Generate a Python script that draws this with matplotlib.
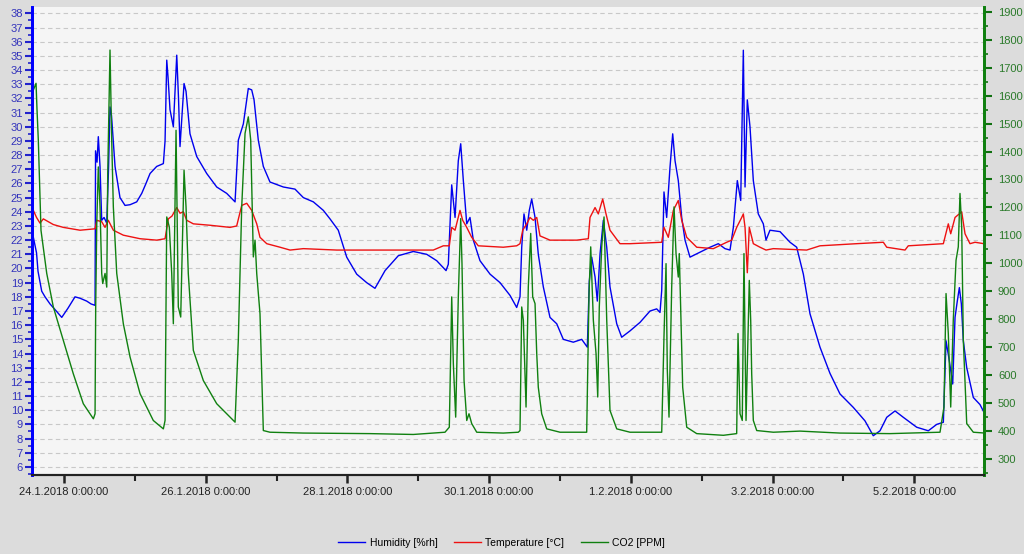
import numpy as np
import pandas as pd
import matplotlib
matplotlib.use("Agg")
import matplotlib.pyplot as plt
from matplotlib.ticker import MultipleLocator, FuncFormatter
import matplotlib.dates as mdates

plt.rcParams['font.family'] = ['Liberation Sans', 'DejaVu Sans']

start = pd.Timestamp("2018-01-24 00:00:00")

# time offsets in days from 24.1.2018 0:00
hum_t = [-0.452, -0.433, -0.409, -0.388, -0.367, -0.315, -0.268, -0.198, -0.127, -0.032,
         0.056, 0.155, 0.226, 0.320, 0.381, 0.438, 0.445, 0.466, 0.484, 0.508,
         0.532, 0.565, 0.603, 0.628, 0.649, 0.670, 0.720, 0.790, 0.861, 0.932,
         1.026, 1.097, 1.157, 1.214, 1.308, 1.402, 1.426, 1.450, 1.468, 1.496,
         1.543, 1.591, 1.616, 1.637, 1.694, 1.722, 1.778, 1.873, 2.014, 2.155,
         2.296, 2.414, 2.460, 2.531, 2.601, 2.649, 2.682, 2.742, 2.813, 2.907,
         3.095, 3.260, 3.378, 3.519, 3.660, 3.754, 3.871, 3.990, 4.131, 4.272,
         4.389, 4.531, 4.718, 4.930, 5.119, 5.260, 5.392, 5.424, 5.472, 5.519,
         5.565, 5.599, 5.636, 5.684, 5.730, 5.777, 5.871, 6.013, 6.154, 6.295,
         6.389, 6.436, 6.460, 6.492, 6.531, 6.567, 6.601, 6.648, 6.694, 6.765,
         6.859, 6.954, 7.047, 7.188, 7.307, 7.386, 7.414, 7.448, 7.495, 7.527,
         7.565, 7.612, 7.660, 7.706, 7.801, 7.871, 7.989, 8.130, 8.271, 8.365,
         8.412, 8.436, 8.468, 8.506, 8.553, 8.591, 8.624, 8.670, 8.718, 8.765,
         8.835, 8.976, 9.118, 9.235, 9.329, 9.400, 9.447, 9.503, 9.551, 9.588,
         9.612, 9.644, 9.682, 9.729, 9.799, 9.870, 9.908, 9.964, 10.106, 10.247,
         10.341, 10.435, 10.529, 10.670, 10.811, 10.952, 11.140, 11.305, 11.422, 11.517,
         11.612, 11.729, 11.846, 12.035, 12.199, 12.317, 12.411, 12.449, 12.495, 12.543,
         12.576, 12.608, 12.637, 12.665, 12.693, 12.741, 12.834, 12.928, 12.985]
humidity = [22.0, 22.2, 21.6, 21.1, 19.8, 18.4, 18.0, 17.5, 17.1, 16.55,
            17.2, 18.0, 17.9, 17.7, 17.5, 17.4, 28.3, 27.5, 29.3, 27.2,
            23.4, 23.6, 23.2, 27.0, 31.4, 30.8, 27.2, 25.0, 24.45, 24.5,
            24.7, 25.3, 26.0, 26.7, 27.2, 27.4, 29.0, 34.7, 33.5, 31.2,
            30.0, 35.05, 32.0, 28.6, 33.05, 32.5, 29.5, 27.9, 26.7, 25.75,
            25.3, 24.7, 29.05, 30.2, 32.7, 32.6, 31.9, 29.05, 27.2, 26.1,
            25.75, 25.6, 25.0, 24.7, 24.1, 23.5, 22.7, 20.8, 19.6, 19.0,
            18.6, 19.85, 20.9, 21.2, 21.0, 20.55, 19.85, 20.3, 25.9, 23.6,
            27.6, 28.8, 26.2, 23.15, 23.6, 22.0, 20.55, 19.6, 19.0, 18.1,
            17.25, 18.0, 21.5, 23.85, 22.7, 24.1, 24.9, 23.6, 21.0, 18.7,
            16.55, 16.1, 15.0, 14.8, 15.0, 14.45, 19.1, 20.8, 19.4, 17.7,
            21.0, 23.4, 21.5, 18.7, 16.1, 15.15, 15.6, 16.2, 17.0, 17.15,
            16.9, 18.45, 25.4, 23.6, 27.15, 29.5, 27.6, 26.2, 23.6, 22.0,
            20.8, 21.15, 21.5, 21.75, 21.4, 21.3, 22.9, 26.2, 24.8, 35.4,
            25.75, 31.9, 30.0, 26.2, 23.85, 23.15, 22.0, 22.7, 22.6, 21.85,
            21.5, 19.6, 16.8, 14.45, 12.6, 11.15, 10.2, 9.25, 8.2, 8.55,
            9.5, 9.95, 9.5, 8.8, 8.55, 9.0, 9.15, 14.9, 13.5, 11.85,
            16.55, 17.7, 18.65, 17.5, 14.9, 13.0, 10.9, 10.4, 9.85]

temp_t = [-0.452, -0.433, -0.388, -0.339, -0.292, -0.151, -0.010, 0.226, 0.438, 0.462,
          0.532, 0.579, 0.625, 0.696, 0.837, 1.073, 1.308, 1.426, 1.472, 1.524,
          1.591, 1.637, 1.684, 1.732, 1.825, 2.061, 2.343, 2.437, 2.508, 2.579,
          2.649, 2.720, 2.766, 2.861, 3.049, 3.190, 3.378, 3.849, 4.319, 4.789,
          5.212, 5.353, 5.438, 5.472, 5.519, 5.589, 5.627, 5.684, 5.754, 5.847,
          6.200, 6.389, 6.436, 6.474, 6.531, 6.577, 6.624, 6.672, 6.718, 6.859,
          7.236, 7.400, 7.424, 7.495, 7.541, 7.603, 7.650, 7.706, 7.847, 7.989,
          8.436, 8.468, 8.529, 8.600, 8.670, 8.718, 8.789, 8.930, 9.164, 9.353,
          9.424, 9.494, 9.565, 9.588, 9.612, 9.644, 9.672, 9.729, 9.823, 9.908,
          10.011, 10.482, 10.670, 11.188, 11.564, 11.612, 11.870, 11.916, 12.411, 12.481,
          12.515, 12.576, 12.670, 12.717, 12.787, 12.858, 12.985]
temperature = [23.4, 24.1, 23.6, 23.2, 23.5, 23.1, 22.9, 22.7, 22.8, 23.4,
               23.3, 22.9, 23.4, 22.7, 22.35, 22.1, 22.0, 22.1, 23.5, 23.7,
               24.3, 23.9, 24.0, 23.4, 23.15, 23.05, 22.9, 23.0, 24.45, 24.6,
               24.1, 23.15, 22.2, 21.75, 21.5, 21.3, 21.4, 21.3, 21.3, 21.3,
               21.3, 21.6, 21.6, 22.9, 22.7, 24.1, 23.4, 22.9, 22.2, 21.6,
               21.5, 21.6, 21.75, 22.7, 23.15, 23.6, 23.4, 23.6, 22.3, 22.0,
               22.0, 22.1, 23.6, 24.3, 23.85, 24.9, 23.85, 22.7, 21.75, 21.75,
               21.85, 22.9, 22.2, 24.1, 24.8, 23.4, 22.2, 21.5, 21.4, 21.85,
               22.0, 22.9, 23.6, 23.85, 22.9, 19.7, 22.9, 21.75, 21.5, 21.3,
               21.4, 21.3, 21.6, 21.75, 21.85, 21.5, 21.3, 21.6, 21.75, 23.15,
               22.45, 23.6, 24.0, 22.45, 21.75, 21.85, 21.75]

co2_t = [-0.445, -0.433, -0.395, -0.381, -0.363, -0.325, -0.244, -0.151, -0.010, 0.131,
         0.272, 0.414, 0.438, 0.447, 0.462, 0.484, 0.508, 0.532, 0.546, 0.579,
         0.603, 0.617, 0.649, 0.673, 0.696, 0.744, 0.837, 0.932, 1.073, 1.260,
         1.402, 1.426, 1.450, 1.486, 1.520, 1.543, 1.581, 1.613, 1.647, 1.694,
         1.722, 1.754, 1.825, 1.966, 2.155, 2.343, 2.414, 2.460, 2.508, 2.555,
         2.601, 2.635, 2.672, 2.696, 2.720, 2.766, 2.790, 2.813, 2.907, 3.378,
         4.319, 4.930, 5.377, 5.438, 5.472, 5.495, 5.528, 5.565, 5.599, 5.617,
         5.646, 5.684, 5.716, 5.754, 5.825, 6.200, 6.412, 6.436, 6.460, 6.483,
         6.521, 6.553, 6.587, 6.615, 6.648, 6.672, 6.694, 6.742, 6.813, 7.001,
         7.377, 7.410, 7.434, 7.471, 7.509, 7.533, 7.555, 7.589, 7.622, 7.660,
         7.706, 7.801, 7.989, 8.436, 8.468, 8.497, 8.515, 8.539, 8.577, 8.610,
         8.638, 8.670, 8.684, 8.732, 8.789, 8.930, 9.306, 9.494, 9.513, 9.541,
         9.573, 9.597, 9.626, 9.672, 9.692, 9.706, 9.729, 9.777, 10.011, 10.388,
         10.952, 11.658, 12.364, 12.420, 12.449, 12.481, 12.515, 12.551, 12.590, 12.622,
         12.646, 12.670, 12.693, 12.741, 12.834, 12.999]
co2 = [1584, 1620, 1644, 1548, 1441, 1118, 964, 844, 725, 605,
       498, 444, 462, 844, 1142, 1345, 1202, 964, 928, 964,
       915, 1321, 1763, 1441, 1202, 964, 784, 665, 534, 438,
       408, 438, 1166, 1130, 964, 784, 1476, 844, 808, 1333,
       1202, 963, 689, 581, 498, 450, 432, 725, 1202, 1465,
       1524, 1441, 1023, 1083, 963, 820, 605, 402, 396, 393,
       391, 388, 396, 414, 880, 641, 450, 880, 1160, 999,
       581, 438, 462, 427, 396, 393, 396, 402, 844, 796,
       486, 916, 1107, 880, 856, 677, 557, 462, 408, 396,
       396, 892, 1059, 796, 677, 522, 844, 1059, 1166, 796,
       474, 408, 396, 396, 737, 999, 617, 450, 916, 1202,
       1035, 951, 1035, 557, 414, 391, 385, 391, 749, 462,
       438, 1035, 438, 939, 796, 605, 438, 402, 396, 400,
       393, 391, 396, 486, 892, 749, 486, 796, 1011, 1059,
       1250, 1130, 725, 427, 396, 393]

tick_days = pd.date_range("2018-01-24", periods=7, freq="2D")
minor_days = pd.date_range("2018-01-25", periods=6, freq="2D")


def to_dates(days):
    return start + pd.to_timedelta(np.array(days), unit="D")


fig = plt.figure(figsize=(10.24, 5.54), dpi=100, facecolor="#dcdcdc")
ax = fig.add_axes([0.03125, 0.1426, 0.9297, 0.8448])
ax.set_facecolor("#f5f5f5")
ax2 = ax.twinx()

blue = "#0000ee"
red = "#ee1111"
green = "#108010"

l1, = ax.plot(to_dates(hum_t), humidity, color=blue, lw=1.0, label="Humidity [%rh]")
l2, = ax.plot(to_dates(temp_t), temperature, color=red, lw=1.0, label="Temperature [°C]")
l3, = ax2.plot(to_dates(co2_t), co2, color=green, lw=1.0, label="CO2 [PPM]")

ax.set_xlim(start + pd.Timedelta(days=-0.452), start + pd.Timedelta(days=12.985))
ax.set_ylim(5.43, 38.45)
ax2.set_ylim(243, 1917)

# left axis
ax.yaxis.set_major_locator(MultipleLocator(1))
ax.yaxis.set_minor_locator(MultipleLocator(0.5))
ax.tick_params(axis="y", which="major", colors="#2222cc", length=5, width=1.5,
               labelsize=8, pad=1.5, labelcolor="#3333bb")
ax.tick_params(axis="y", which="minor", colors="#2222cc", length=3, width=1.2)
ax.grid(axis="y", which="major", color="#c8c8c8", linestyle=(0, (4, 3)), lw=0.8)

# right axis
ax2.yaxis.set_major_locator(MultipleLocator(100))
ax2.yaxis.set_minor_locator(MultipleLocator(50))
ax2.tick_params(axis="y", which="major", colors="#107010", length=6, width=1.5,
                labelsize=8, pad=4, labelcolor="#2a7a2a")
ax2.tick_params(axis="y", which="minor", colors="#107010", length=3, width=1.2)

# x axis
ax.set_xticks(tick_days)
ax.set_xticks(minor_days, minor=True)
ax.xaxis.set_major_formatter(FuncFormatter(
    lambda v, p: "{d.day}.{d.month}.{d.year} 0:00:00".format(d=mdates.num2date(v))))
ax.tick_params(axis="x", which="major", length=6, width=1.8, labelsize=8, pad=3,
               colors="#222222")
ax.tick_params(axis="x", which="minor", length=4, width=1.5, colors="#222222")

for a in (ax, ax2):
    a.spines["top"].set_visible(False)
    a.spines["left"].set_color("#0000ff")
    a.spines["left"].set_linewidth(2)
    a.spines["right"].set_color("#108010")
    a.spines["right"].set_linewidth(2)
    a.spines["bottom"].set_color("#222222")
    a.spines["bottom"].set_linewidth(1.5)

fig.legend(handles=[l1, l2, l3], loc="center", bbox_to_anchor=(0.49, 0.02),
           ncol=3, frameon=False, fontsize=7.5, handlelength=2.6,
           handletextpad=0.4, columnspacing=1.6)

fig.savefig("out.png", dpi=100, facecolor=fig.get_facecolor())
